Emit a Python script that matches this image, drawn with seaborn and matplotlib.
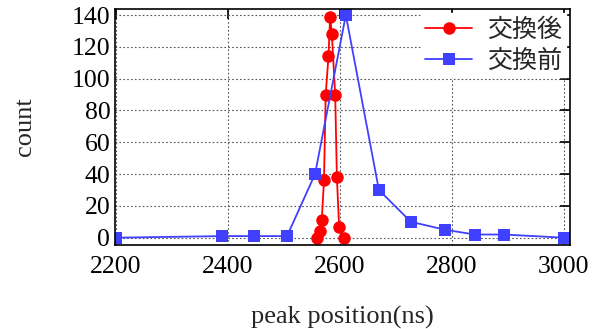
import seaborn as sns
import matplotlib.pyplot as plt
import pandas as pd

# after replacement (red circles)
after_x = [2560, 2564, 2568, 2572, 2575, 2580, 2583, 2586, 2592, 2595, 2599, 2608]
after_y = [0, 4, 11, 36, 90, 114, 139, 128, 90, 38, 7, 0]

# before replacement (blue squares)
before_x = [2200, 2390, 2447, 2506, 2556, 2611, 2670, 2727, 2788, 2841, 2893, 3000]
before_y = [0, 1, 1, 1, 40, 140, 30, 10, 5, 2, 2, 0]

xticks = [2200, 2400, 2600, 2800, 3000]
yticks = [0, 20, 40, 60, 80, 100, 120, 140]

df_after = pd.DataFrame({"x": after_x, "y": after_y})
df_before = pd.DataFrame({"x": before_x, "y": before_y})

sns.set_style("white")
plt.rcParams['font.family'] = ['Liberation Serif', 'DejaVu Serif']

fig = plt.figure(figsize=(5.98, 3.29), dpi=100)
ax = fig.add_axes([0.1915, 0.2553, 0.7615, 0.7173])

sns.lineplot(data=df_after, x="x", y="y", ax=ax, sort=False, color="#ff0000",
             marker="o", markersize=9, markeredgewidth=0, linewidth=1.3, label="交換後")
sns.lineplot(data=df_before, x="x", y="y", ax=ax, sort=False, color="#4040ff",
             marker="s", markersize=9, markeredgewidth=0, linewidth=1.3, label="交換前")

ax.set_xlim(2198, 3011)
ax.set_ylim(-4.6, 143.8)
ax.set_xticks(xticks)
ax.set_yticks(yticks)
ax.grid(True, linestyle=(0, (1.5, 2)), color="#555555", linewidth=0.8)
for s in ax.spines.values():
    s.set_visible(True)
    s.set_color("black")
    s.set_linewidth(1.2)
ax.tick_params(direction="in", length=7, width=1.2, top=True, right=True,
               labelsize=18.5, colors="black", pad=3)
ax.tick_params(axis="x", pad=8)

ax.set_xlabel("peak position(ns)", fontsize=19, labelpad=20)
ax.set_ylabel("count", fontsize=19, labelpad=26)

leg = ax.legend(loc="upper right", prop={"family": ["Noto Sans CJK JP", "DejaVu Sans"], "size": 18},
                frameon=True, fancybox=False, framealpha=1, edgecolor="white",
                borderaxespad=0.15, handlelength=1.9, handletextpad=0.6,
                labelspacing=0.2, borderpad=0.15)

fig.savefig("out.png", dpi=100)
